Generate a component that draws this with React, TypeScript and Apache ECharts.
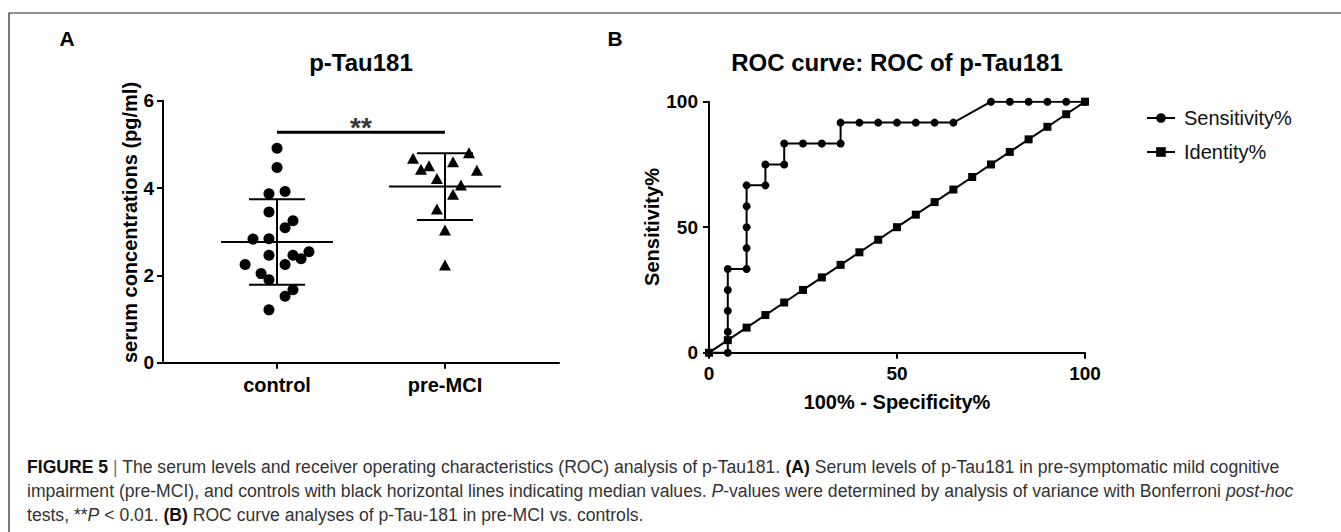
import React, { useEffect, useRef } from "react";
import * as echarts from "echarts";

// ---------- Panel A data ----------
const groupCategories = ["control", "pre-MCI"];
const controlValues = [4.91, 4.47, 3.87, 3.92, 3.45, 3.25, 3.09, 2.83, 2.84, 2.46, 2.46, 2.38, 2.54, 2.25, 2.25, 2.04, 1.9, 1.67, 1.52, 1.21];
const controlJitter = [0, 0, -0.048, 0.048, -0.048, 0.095, 0.048, -0.143, -0.048, -0.048, 0.095, 0.143, 0.19, -0.19, 0.048, -0.095, -0.048, 0.095, 0.048, -0.048];
const preMciValues = [4.68, 4.43, 4.51, 4.6, 4.81, 4.41, 4.22, 4.07, 3.86, 3.52, 3.04, 2.24];
const preMciJitter = [-0.19, -0.143, -0.095, 0.048, 0.143, 0.19, -0.048, 0.095, 0.048, -0.048, 0, 0];
const aYTicks = [0, 2, 4, 6];
const significanceY = 5.28;
const significanceLabel = "**";

// ---------- Panel B data ----------
const rocFpr = [0, 5, 5, 5, 5, 5, 10, 10, 10, 10, 10, 15, 15, 20, 20, 25, 30, 35, 35, 40, 45, 50, 55, 60, 65, 75, 80, 85, 90, 95, 100];
const rocSens = [0, 0, 8.33, 16.67, 25, 33.33, 33.33, 41.67, 50, 58.33, 66.67, 66.67, 75, 75, 83.33, 83.33, 83.33, 83.33, 91.67, 91.67, 91.67, 91.67, 91.67, 91.67, 91.67, 100, 100, 100, 100, 100, 100];
const identityX = [0, 5, 10, 15, 20, 25, 30, 35, 40, 45, 50, 55, 60, 65, 70, 75, 80, 85, 90, 95, 100];
const identityY = [0, 5, 10, 15, 20, 25, 30, 35, 40, 45, 50, 55, 60, 65, 70, 75, 80, 85, 90, 95, 100];
const bTicks = [0, 50, 100];
const seriesNames = ["Sensitivity%", "Identity%"];

const FONT = '"Liberation Sans", Arial, sans-serif';

function meanSd(arr: number[]) {
  const m = arr.reduce((a, b) => a + b, 0) / arr.length;
  const v = arr.reduce((a, b) => a + (b - m) * (b - m), 0) / (arr.length - 1);
  return [m, Math.sqrt(v)];
}

export default function App() {
  const ref = useRef<HTMLDivElement>(null);
  useEffect(() => {
    if (!ref.current) return;
    const chart = echarts.init(ref.current, undefined, { renderer: "svg" });
    const [cm, cs] = meanSd(controlValues);
    const [pm, ps] = meanSd(preMciValues);
    const meanHalf = 0.333;
    const sdHalf = 0.167;

    const boldLabel = { fontFamily: FONT, fontWeight: "bold" as const, color: "#000" };
    const axisLine = { show: true, onZero: false, lineStyle: { color: "#000", width: 2 } };
    const axisTick = (vals: number[]) => ({ show: true, customValues: vals, length: 6, lineStyle: { color: "#000", width: 2 } });

    const capBase = { fontFamily: FONT, fontSize: 17.6, fill: "#333" };
    const rich = {
      b: { ...capBase, fontWeight: "bold", fill: "#111" },
      sep: { ...capBase, fill: "#777" },
      i: { ...capBase, fontStyle: "italic" },
    };
    const capLine = (text: string, y: number) => ({
      type: "text",
      x: 27,
      y,
      silent: true,
      style: { ...capBase, text, rich, textVerticalAlign: "middle", textAlign: "left" },
    });

    const option: any = {
      animation: false,
      textStyle: { fontFamily: FONT },
      grid: [
        { left: 163, top: 100.7, width: 396, height: 262 },
        { left: 709, top: 101.7, width: 376, height: 251 },
      ],
      xAxis: [
        {
          gridIndex: 0,
          type: "value",
          min: 0.321,
          max: 2.679,
          splitLine: { show: false },
          axisLine,
          axisTick: axisTick([1, 2]),
          axisLabel: {
            ...boldLabel,
            fontSize: 20,
            margin: 12,
            customValues: [1, 2],
            formatter: (v: number) => groupCategories[Math.round(v) - 1] ?? "",
          },
        },
        {
          gridIndex: 1,
          type: "value",
          min: 0,
          max: 100,
          splitLine: { show: false },
          axisLine,
          axisTick: axisTick(bTicks),
          axisLabel: { ...boldLabel, fontSize: 19, margin: 11, customValues: bTicks },
        },
      ],
      yAxis: [
        {
          gridIndex: 0,
          type: "value",
          min: 0,
          max: 6,
          interval: 2,
          splitLine: { show: false },
          axisLine,
          axisTick: axisTick(aYTicks),
          axisLabel: { ...boldLabel, fontSize: 19, margin: 9, customValues: aYTicks },
        },
        {
          gridIndex: 1,
          type: "value",
          min: 0,
          max: 100,
          splitLine: { show: false },
          axisLine,
          axisTick: axisTick(bTicks),
          axisLabel: { ...boldLabel, fontSize: 19, margin: 11, customValues: bTicks },
        },
      ],
      legend: {
        data: seriesNames,
        orient: "vertical",
        left: 1141,
        top: 103,
        itemWidth: 28,
        itemHeight: 12,
        itemGap: 14,
        textStyle: { fontSize: 20, color: "#111", fontFamily: FONT, padding: [0, 0, 0, 4] },
      },
      series: [
        {
          type: "scatter",
          xAxisIndex: 0,
          yAxisIndex: 0,
          symbol: "circle",
          symbolSize: 11,
          itemStyle: { color: "#000", opacity: 1 },
          data: controlValues.map((v, i) => [1 + controlJitter[i], v]),
          z: 3,
        },
        {
          type: "scatter",
          xAxisIndex: 0,
          yAxisIndex: 0,
          symbol: "triangle",
          symbolSize: [12, 11],
          itemStyle: { color: "#000", opacity: 1 },
          data: preMciValues.map((v, i) => [2 + preMciJitter[i], v]),
          z: 3,
        },
        {
          type: "custom",
          xAxisIndex: 0,
          yAxisIndex: 0,
          data: [
            [1, cm, cs],
            [2, pm, ps],
          ],
          renderItem: (_p: any, api: any) => {
            const c = api.value(0);
            const m = api.value(1);
            const s = api.value(2);
            const seg = (a: number[], b: number[]) => ({
              type: "line",
              shape: { x1: a[0], y1: a[1], x2: b[0], y2: b[1] },
              style: { stroke: "#000", lineWidth: 2 },
            });
            const p = (x: number, y: number) => api.coord([x, y]);
            return {
              type: "group",
              children: [
                seg(p(c - meanHalf, m), p(c + meanHalf, m)),
                seg(p(c - sdHalf, m + s), p(c + sdHalf, m + s)),
                seg(p(c - sdHalf, m - s), p(c + sdHalf, m - s)),
                seg(p(c, m - s), p(c, m + s)),
              ],
            };
          },
          z: 4,
        },
        {
          type: "line",
          xAxisIndex: 0,
          yAxisIndex: 0,
          symbol: "none",
          lineStyle: { color: "#000", width: 3 },
          data: [
            [1, significanceY],
            [2, significanceY],
          ],
        },
        {
          type: "scatter",
          xAxisIndex: 0,
          yAxisIndex: 0,
          symbolSize: 0,
          data: [[1.5, significanceY]],
          label: {
            show: true,
            formatter: significanceLabel,
            position: "top",
            distance: -9,
            fontSize: 28,
            fontWeight: "bold",
            color: "#000",
            fontFamily: FONT,
          },
        },
        {
          name: seriesNames[0],
          type: "line",
          xAxisIndex: 1,
          yAxisIndex: 1,
          symbol: "circle",
          symbolSize: 8,
          showAllSymbol: true,
          lineStyle: { color: "#000", width: 2 },
          itemStyle: { color: "#000" },
          data: rocFpr.map((x, i) => [x, rocSens[i]]),
        },
        {
          name: seriesNames[1],
          type: "line",
          xAxisIndex: 1,
          yAxisIndex: 1,
          symbol: "rect",
          symbolSize: 8,
          showAllSymbol: true,
          lineStyle: { color: "#000", width: 2 },
          itemStyle: { color: "#000" },
          data: identityX.map((x, i) => [x, identityY[i]]),
        },
      ],
      graphic: [
        {
          type: "rect",
          silent: true,
          z: -10,
          shape: { x: 9, y: 13, width: 1500, height: 700 },
          style: { fill: "none", stroke: "#222", lineWidth: 1.2 },
        },
        { type: "text", x: 67, y: 38, style: { text: "A", font: `bold 21px ${FONT}`, fill: "#000", textAlign: "center", textVerticalAlign: "middle" } },
        { type: "text", x: 615, y: 38, style: { text: "B", font: `bold 21px ${FONT}`, fill: "#000", textAlign: "center", textVerticalAlign: "middle" } },
        { type: "text", x: 361, y: 62, style: { text: "p-Tau181", font: `bold 24px ${FONT}`, fill: "#000", textAlign: "center", textVerticalAlign: "middle" } },
        { type: "text", x: 897, y: 62, style: { text: "ROC curve: ROC of p-Tau181", font: `bold 24px ${FONT}`, fill: "#000", textAlign: "center", textVerticalAlign: "middle" } },
        {
          type: "text",
          x: 130,
          y: 222.5,
          rotation: Math.PI / 2,
          style: { text: "serum concentrations (pg/ml)", font: `bold 20px ${FONT}`, fill: "#000", textAlign: "center", textVerticalAlign: "middle" },
        },
        {
          type: "text",
          x: 651.7,
          y: 227,
          rotation: Math.PI / 2,
          style: { text: "Sensitivity%", font: `bold 20px ${FONT}`, fill: "#000", textAlign: "center", textVerticalAlign: "middle" },
        },
        { type: "text", x: 897, y: 401.7, style: { text: "100% - Specificity%", font: `bold 20px ${FONT}`, fill: "#000", textAlign: "center", textVerticalAlign: "middle" } },
        capLine(
          "{b|FIGURE 5} {sep||} The serum levels and receiver operating characteristics (ROC) analysis of p-Tau181. {b|(A)} Serum levels of p-Tau181 in pre-symptomatic mild cognitive",
          467
        ),
        capLine(
          "impairment (pre-MCI), and controls with black horizontal lines indicating median values. {i|P}-values were determined by analysis of variance with Bonferroni {i|post-hoc}",
          491
        ),
        capLine("tests, **{i|P} < 0.01. {b|(B)} ROC curve analyses of p-Tau-181 in pre-MCI vs. controls.", 515),
      ],
    };
    chart.setOption(option);
    return () => chart.dispose();
  }, []);
  return (
    <div
      ref={ref}
      style={{ position: "fixed", left: 0, top: 0, width: 1341, height: 532, background: "#fff" }}
    />
  );
}
